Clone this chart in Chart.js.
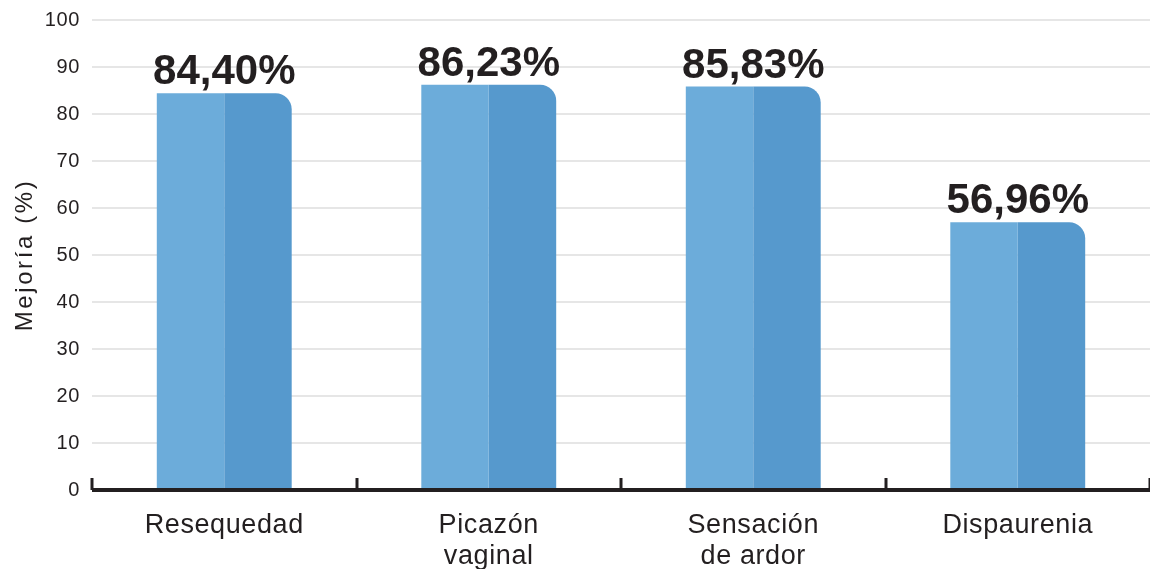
<!DOCTYPE html>
<html>
<head>
<meta charset="utf-8">
<script src="https://cdn.jsdelivr.net/npm/chart.js@4"></script>
<style>
  html, body { margin: 0; padding: 0; background: #fff; }
  #wrap { width: 1150px; height: 569px; }
</style>
</head>
<body>
<div id="wrap"><canvas id="chart"></canvas></div>
<script>
const categories = [["Resequedad"], ["Picazón", "vaginal"], ["Sensación", "de ardor"], ["Dispaurenia"]];
const mejoria = [84.40, 86.23, 85.83, 56.96];
const valueLabels = ["84,40%", "86,23%", "85,83%", "56,96%"];
const yTicks = [0, 10, 20, 30, 40, 50, 60, 70, 80, 90, 100];
const yTitle = "Mejoría (%)";

const textColor = "#231f20";
const fontFamily = "'Liberation Sans', Arial, sans-serif";

// slight letter spacing for the tick labels, like the original
const spacing = {
    id: "spacing",
    beforeDraw(chart) { chart.ctx.letterSpacing = "0.6px"; },
    afterDraw(chart) { chart.ctx.letterSpacing = "0px"; },
};

// black base line with small upward ticks between categories, % labels, y title
const extras = {
    id: "extras",
    afterDatasetsDraw(chart) {
        const ctx = chart.ctx;
        const x = chart.scales.x;
        const y = chart.scales.y;
        const base = y.getPixelForValue(0);
        const step = x.getPixelForValue(1) - x.getPixelForValue(0);
        ctx.save();
        ctx.strokeStyle = textColor;
        ctx.lineWidth = 4;
        ctx.beginPath();
        ctx.moveTo(chart.chartArea.left, base);
        ctx.lineTo(chart.width, base);
        ctx.stroke();
        ctx.lineWidth = 3;
        for (let i = 0; i <= categories.length; i++) {
            const tx = Math.round(x.getPixelForValue(0) - step / 2 + i * step);
            ctx.beginPath();
            ctx.moveTo(tx, base);
            ctx.lineTo(tx, base - 12);
            ctx.stroke();
        }
        ctx.fillStyle = textColor;
        ctx.letterSpacing = "0px";
        ctx.font = "bold 42px " + fontFamily;
        ctx.textAlign = "center";
        ctx.textBaseline = "alphabetic";
        for (let i = 0; i < mejoria.length; i++) {
            ctx.fillText(valueLabels[i], x.getPixelForValue(i), y.getPixelForValue(mejoria[i]) - 9);
        }
        ctx.letterSpacing = "2.6px";
        ctx.font = "24px " + fontFamily;
        ctx.textBaseline = "middle";
        ctx.translate(25, (chart.chartArea.top + chart.chartArea.bottom) / 2);
        ctx.rotate(-Math.PI / 2);
        ctx.fillText(yTitle, 0, 0);
        ctx.restore();
    }
};

new Chart(document.getElementById("chart"), {
    type: "bar",
    data: {
        labels: categories,
        datasets: [{
            data: mejoria,
            backgroundColor: "#6cacda",
            borderRadius: 0,
            borderSkipped: false,
        },
        {
            data: mejoria,
            backgroundColor: "#5699cd",
            borderRadius: { topLeft: 0, topRight: 16, bottomLeft: 0, bottomRight: 0 },
            borderSkipped: false,
        }],
    },
    options: {
        responsive: true,
        maintainAspectRatio: false,
        animation: false,
        layout: { padding: { top: 20, left: 0, right: 0, bottom: 0 } },
        categoryPercentage: 0.51,
        barPercentage: 1.0,
        plugins: {
            legend: { display: false },
            tooltip: { enabled: false },
        },
        scales: {
            x: {
                grid: { display: false },
                border: { display: false },
                ticks: {
                    color: textColor,
                    font: { family: fontFamily, size: 27, lineHeight: 1.15 },
                    padding: 12,
                    maxRotation: 0,
                    autoSkip: false,
                },
                afterFit(scale) { scale.height = 79; },
            },
            y: {
                min: 0,
                max: 100,
                afterBuildTicks(scale) { scale.ticks = yTicks.map(v => ({ value: v })); },
                grid: { color: "#e6e6e6", lineWidth: 2, drawTicks: false },
                border: { display: false },
                ticks: {
                    color: textColor,
                    font: { family: fontFamily, size: 20 },
                    padding: 12,
                },
                afterFit(scale) {
                    scale.width = 92;
                    scale.paddingTop = 0;
                    scale.paddingBottom = 0;
                },
            },
        },
    },
    plugins: [spacing, extras],
});
</script>
</body>
</html>
